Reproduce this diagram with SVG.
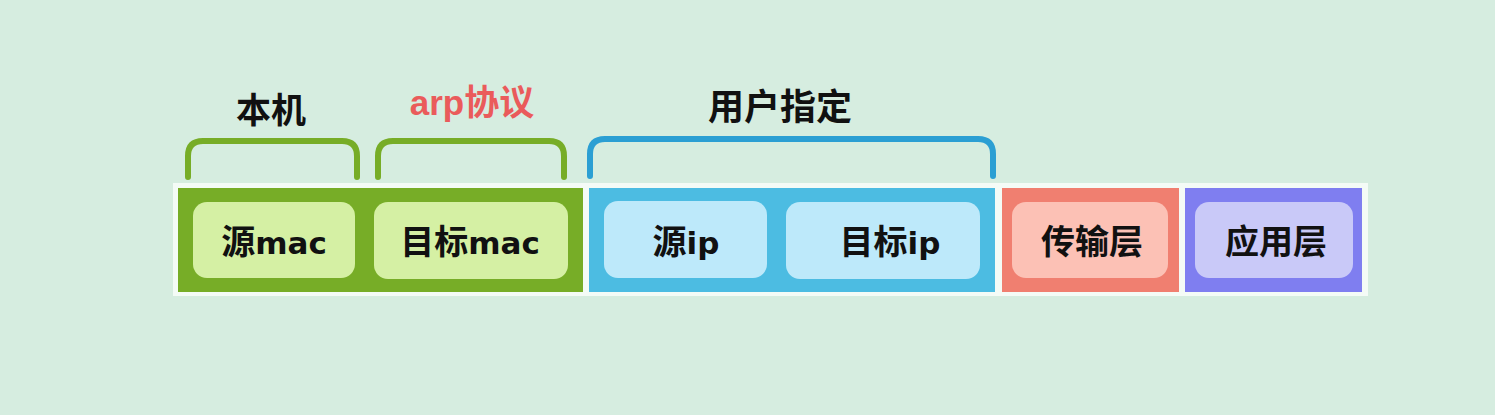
<svg xmlns="http://www.w3.org/2000/svg" width="1495" height="415" viewBox="0 0 1495 415">
<style>
.lbl{font-family:"Liberation Sans","Noto Sans CJK SC",sans-serif;font-weight:bold;text-anchor:middle;fill:#111}
.t{font-family:"Liberation Sans","Noto Sans CJK SC",sans-serif;font-weight:bold;font-size:34px;text-anchor:middle;fill:#111}
.l{font-family:"DejaVu Sans",sans-serif;font-size:31px;font-weight:bold}
.br{fill:none;stroke-width:6;stroke-linecap:round}
</style>
<rect width="1495" height="415" fill="#d6ede0"/>
<rect x="173" y="183" width="1195" height="113" fill="#f4fbf6"/>
<g id="band-mac"><rect x="178" y="188" width="405" height="104" fill="#77ad27"/></g>
<g id="band-ip"><rect x="589" y="188" width="406" height="104" fill="#4cbce2"/></g>
<g id="band-transport"><rect x="1002" y="188" width="177" height="104" fill="#f07f70"/></g>
<g id="band-app"><rect x="1185" y="188" width="177" height="104" fill="#7f7ef0"/></g>
<g id="node-srcmac"><rect x="193" y="202" width="162" height="76" rx="14" fill="#d5f0a4"/><text class="t" x="274" y="254">源<tspan class="l">mac</tspan></text></g>
<g id="node-dstmac"><rect x="374" y="202" width="194" height="77" rx="14" fill="#d5f0a4"/><text class="t" x="470" y="254">目标<tspan class="l">mac</tspan></text></g>
<g id="node-srcip"><rect x="604" y="201" width="163" height="77" rx="14" fill="#bde9fa"/><text class="t" x="686" y="254">源<tspan class="l">ip</tspan></text></g>
<g id="node-dstip"><rect x="786" y="202" width="194" height="77" rx="14" fill="#bde9fa"/><text class="t" x="890" y="254">目标<tspan class="l">ip</tspan></text></g>
<g id="node-transport"><rect x="1012" y="202" width="156" height="76" rx="14" fill="#fcc1b5"/><text class="t" x="1092" y="254">传输层</text></g>
<g id="node-app"><rect x="1195" y="202" width="158" height="76" rx="14" fill="#c9c9f8"/><text class="t" x="1276" y="254">应用层</text></g>
<g id="connectors">
<path class="br" stroke="#77ad27" d="M188,177 V156 Q188,141 203,141 H342 Q357,141 357,156 V177"/>
<path class="br" stroke="#77ad27" d="M378,177 V156 Q378,141 393,141 H549 Q564,141 564,156 V177"/>
<path class="br" stroke="#2b9fd3" d="M590,176 V154 Q590,139 605,139 H978 Q993,139 993,154 V176"/>
</g>
<g id="label-local"><text class="lbl" x="271" y="123" font-size="35">本机</text></g>
<g id="label-arp"><text class="lbl" x="472" y="115" font-size="35" style="fill:#ea5b5b">arp协议</text></g>
<g id="label-user"><text class="lbl" x="780" y="120" font-size="36">用户指定</text></g>
</svg>
